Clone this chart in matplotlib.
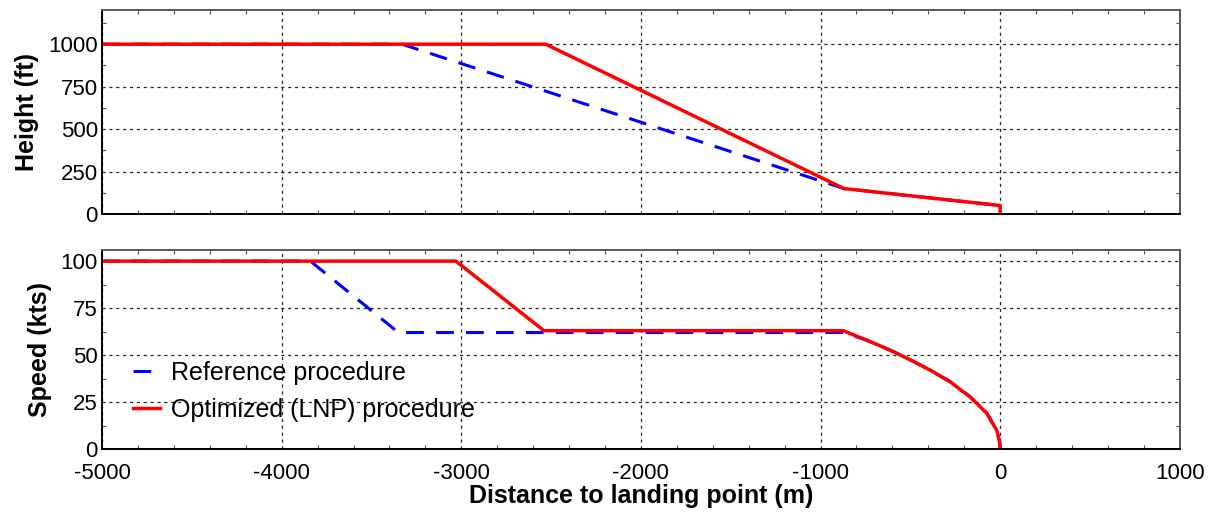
import numpy as np
import matplotlib
matplotlib.use('Agg')
import matplotlib.pyplot as plt
from matplotlib.ticker import MultipleLocator

plt.rcParams['font.family'] = ['Liberation Sans', 'DejaVu Sans']
plt.rcParams['axes.unicode_minus'] = False

# height profile (ft) vs distance to landing point (m)
height_x_ref = [-5000, -3330, -870, 0, 0]
height_ref = [1000, 1000, 150, 50, 0]
height_x_opt = [-5000, -2530, -870, 0, 0]
height_opt = [1000, 1000, 150, 50, 0]

# speed profile (kts)
speed_x_ref = [-5000, -3840, -3350, -874, -750, -680, -594, -480, -390, -278, -220, -167, -120, -74, -40, -19, -10, -5, -2, 0]
speed_ref = [100, 100, 62, 62, 58.2, 55.4, 51.8, 46.5, 42, 35.8, 31.5, 27.8, 23.3, 19, 13.4, 10, 6.7, 4.7, 3.0, 0]
speed_x_opt = [-5000, -3030, -2540, -874, -750, -680, -594, -480, -390, -278, -220, -167, -120, -74, -40, -19, -10, -5, -2, 0]
speed_opt = [100, 100, 63, 63, 58.2, 55.4, 51.8, 46.5, 42, 35.8, 31.5, 27.8, 23.3, 19, 13.4, 10, 6.7, 4.7, 3.0, 0]

labels = ['Reference procedure', 'Optimized (LNP) procedure']
xticks = [-5000, -4000, -3000, -2000, -1000, 0, 1000]

fig = plt.figure(figsize=(12.15, 5.12), dpi=100)
ax1 = fig.add_axes([0.084, 0.582, 0.887, 0.398])
ax2 = fig.add_axes([0.084, 0.123, 0.887, 0.389])

blue_kw = dict(color='#0000ff', lw=2.2, dashes=(5.8, 4.0))
red_kw = dict(color='#ff0000', lw=2.5)

ax1.plot(height_x_ref, height_ref, **blue_kw)
ax1.plot(height_x_opt, height_opt, **red_kw)
ax2.plot(speed_x_ref, speed_ref, label=labels[0], **blue_kw)
ax2.plot(speed_x_opt, speed_opt, label=labels[1], **red_kw)

ax1.set_ylim(0, 1200)
ax1.set_yticks([0, 250, 500, 750, 1000])
ax1.yaxis.set_minor_locator(MultipleLocator(125))
ax2.set_ylim(0, 106)
ax2.set_yticks([0, 25, 50, 75, 100])
ax2.yaxis.set_minor_locator(MultipleLocator(12.5))

for ax in (ax1, ax2):
    ax.set_xlim(-5000, 1000)
    ax.set_xticks(xticks)
    ax.xaxis.set_minor_locator(MultipleLocator(200))
    ax.grid(True, which='major', color='0.15', lw=0.9, linestyle=(0, (2.5, 3)))
    ax.tick_params(which='major', length=0, labelsize=16, pad=3)
    ax.tick_params(axis='x', which='major', pad=10)
    ax.tick_params(which='minor', direction='in', length=3, width=0.8,
                   top=True, right=True, color='0.3')
    for s in ['left', 'bottom']:
        ax.spines[s].set_color('black')
        ax.spines[s].set_linewidth(1.4)
    for s in ['top', 'right']:
        ax.spines[s].set_color('0.35')
        ax.spines[s].set_linewidth(1.4)

ax1.tick_params(axis='x', labelbottom=False)

ax1.set_ylabel('Height (ft)', fontsize=18, fontweight='bold', labelpad=7)
ax2.set_ylabel('Speed (kts)', fontsize=18, fontweight='bold', labelpad=6)
ax2.set_xlabel('Distance to landing point (m)', fontsize=18, fontweight='bold', labelpad=0)

ax2.legend(loc='center left', bbox_to_anchor=(0.029, 0.29), frameon=False,
           fontsize=18, handlelength=1.08, handletextpad=0.44, labelspacing=0.5,
           borderpad=0, borderaxespad=0)

fig.savefig('out.png', dpi=100)
